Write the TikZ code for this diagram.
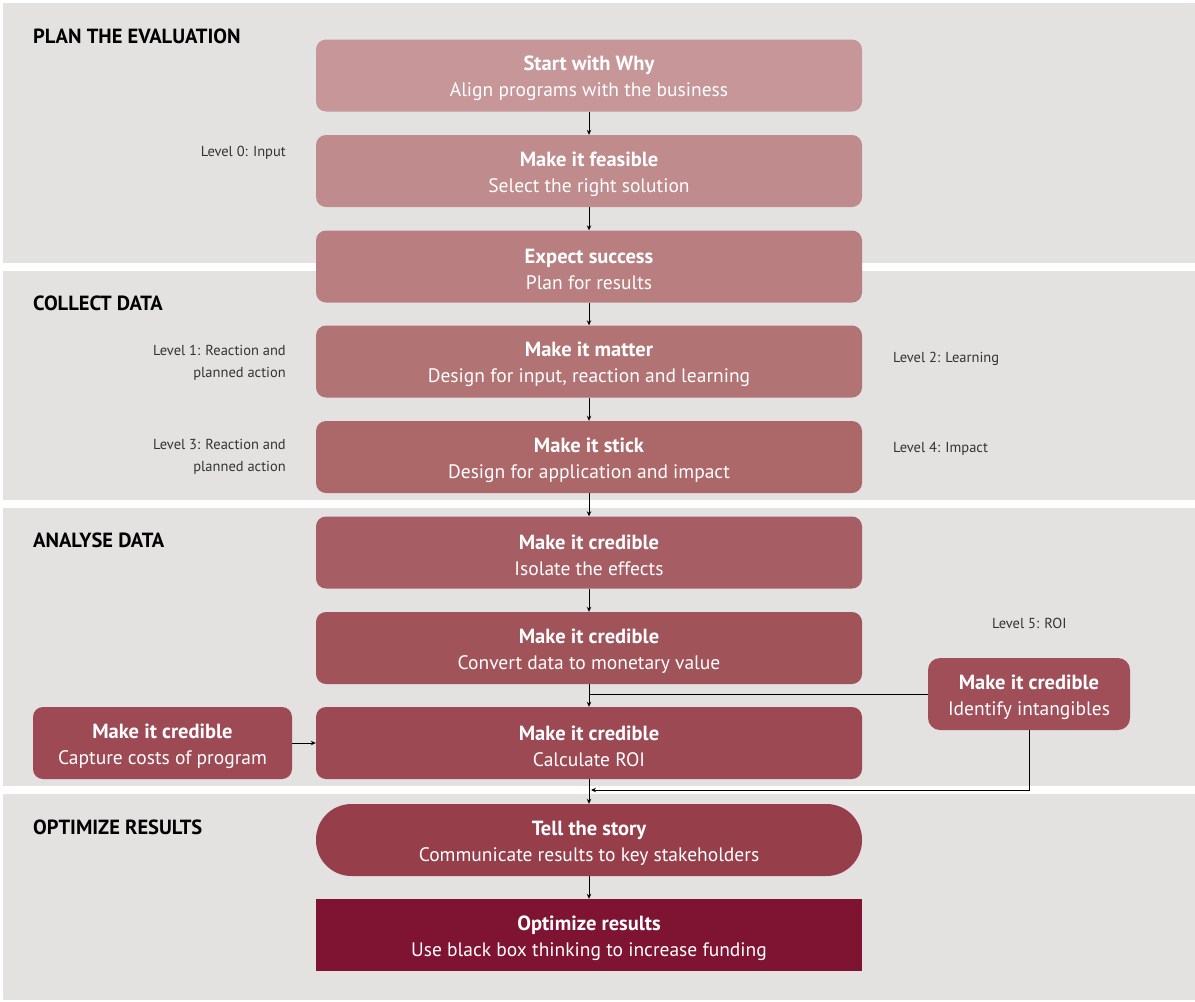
\documentclass[tikz,border=0pt]{standalone}
\usepackage{fontspec}
\setmainfont{PT Sans}
\usetikzlibrary{arrows.meta}
\definecolor{bgc}{HTML}{E3E2E0}
\definecolor{ca}{HTML}{C69698}
\definecolor{cb}{HTML}{C08B8C}
\definecolor{cc}{HTML}{B97F80}
\definecolor{cd}{HTML}{B27374}
\definecolor{ce}{HTML}{AC6869}
\definecolor{cf}{HTML}{A65D63}
\definecolor{cg}{HTML}{A1535A}
\definecolor{ch}{HTML}{9C4953}
\definecolor{cl}{HTML}{9D4A54}
\definecolor{cr}{HTML}{A04F58}
\definecolor{ci}{HTML}{973E4B}
\definecolor{cj}{HTML}{7F1332}
\definecolor{lbl}{HTML}{333333}
\newcommand{\bxt}[2]{\rule{0pt}{21pt}{\fontsize{20.5}{26}\selectfont\bfseries #1}\\{\fontsize{19.5}{26}\selectfont #2}}
\tikzset{
  band/.style={fill=bgc, draw=none},
  stepbox/.style={rectangle, rounded corners=10pt, minimum width=546pt, minimum height=72pt,
    inner sep=0pt, align=center, text=white, font=\fontsize{19.5}{26}\selectfont},
  sidebox/.style={stepbox, minimum width=259pt},
  heading/.style={anchor=west, font=\fontsize{20.5}{24}\selectfont\bfseries, text=black, inner sep=0pt},
  lvl/.style={font=\fontsize{14.5}{22}\selectfont, text=lbl, inner sep=0pt},
  conn/.style={draw=black, line width=0.9pt, -{Stealth[length=5pt,width=4.5pt]}},
  plain/.style={draw=black, line width=0.9pt}
}
\begin{document}
\begin{tikzpicture}[x=1pt,y=-1pt]
\useasboundingbox (0,0) rectangle (1195,1002);
\fill[white] (0,0) rectangle (1195,1002);
\path[band] (3,3) rectangle (1195,263);
\path[band] (3,271) rectangle (1195,500);
\path[band] (3,508) rectangle (1195,786);
\path[band] (3,794) rectangle (1195,1000);

\node[heading] (h1) at (33,36) {PLAN THE EVALUATION};
\node[heading] (h2) at (33,303) {COLLECT DATA};
\node[heading] (h3) at (33,540) {ANALYSE DATA};
\node[heading] (h4) at (33,827) {OPTIMIZE RESULTS};

\node[stepbox, fill=ca] (b1) at (589,75.5) {\bxt{Start with Why}{Align programs with the business}};
\node[stepbox, fill=cb] (b2) at (589,171) {\bxt{Make it feasible}{Select the right solution}};
\node[stepbox, fill=cc] (b3) at (589,266.5) {\bxt{Expect success}{Plan for results}};
\node[stepbox, fill=cd] (b4) at (589,361.5) {\bxt{Make it matter}{Design for input, reaction and learning}};
\node[stepbox, fill=ce] (b5) at (589,457) {\bxt{Make it stick}{Design for application and impact}};
\node[stepbox, fill=cf] (b6) at (589,552.5) {\bxt{Make it credible}{Isolate the effects}};
\node[stepbox, fill=cg] (b7) at (589,648) {\bxt{Make it credible}{Convert data to monetary value}};
\node[stepbox, fill=ch] (b8) at (589,743) {\bxt{Make it credible}{Calculate ROI}};
\node[stepbox, fill=ci, rounded corners=35.5pt] (b9) at (589,840) {\bxt{Tell the story}{Communicate results to key stakeholders}};
\node[stepbox, fill=cj, rounded corners=0pt] (b10) at (589,935) {\bxt{Optimize results}{Use black box thinking to increase funding}};

\node[sidebox, fill=cl] (bl) at (162.5,743) {\bxt{Make it credible}{Capture costs of program}};
\node[stepbox, fill=cr, minimum width=202pt, rounded corners=12pt] (br) at (1029,694) {\bxt{Make it credible}{Identify intangibles}};

\node[lvl, anchor=east] (l0) at (286,153) {Level 0: Input};
\node[lvl, anchor=east, align=right] (l1) at (286,363) {Level 1: Reaction and\\planned action};
\node[lvl, anchor=east, align=right] (l3) at (286,457) {Level 3: Reaction and\\planned action};
\node[lvl, anchor=west] (l2) at (893,359) {Level 2: Learning};
\node[lvl, anchor=west] (l4) at (893,449) {Level 4: Impact};
\node[lvl, anchor=west] (l5) at (992,623) {Level 5: ROI};

\draw[conn] (b1) -- (b2);
\draw[conn] (b2) -- (b3);
\draw[conn] (b3) -- (b4);
\draw[conn] (b4) -- (b5);
\draw[conn] (b5) -- (b6);
\draw[conn] (b6) -- (b7);
\draw[conn] (b7) -- (b8);
\draw[conn] (b8) -- (b9);
\draw[conn] (b9) -- (b10);
\draw[conn] (bl) -- (b8);
\draw[plain] (br.west) -- (br.west -| b7.south);
\coordinate (jn) at (591,790);
\draw[conn] (br.south) |- (jn);
\end{tikzpicture}
\end{document}
